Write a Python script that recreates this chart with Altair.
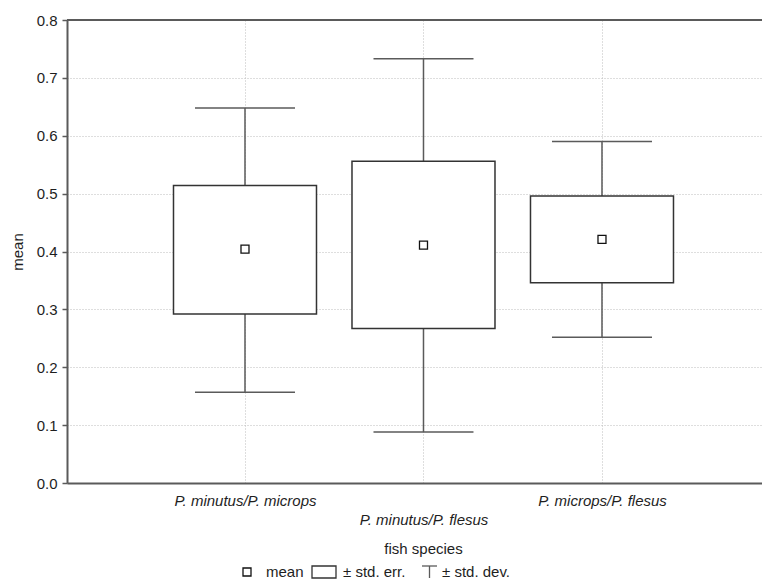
import altair as alt
import pandas as pd

# ---- data ----
categories = ["P. minutus/P. microps", "P. minutus/P. flesus", "P. microps/P. flesus"]
means = [0.404, 0.411, 0.421]
se_low = [0.292, 0.267, 0.346]
se_high = [0.514, 0.556, 0.496]
sd_low = [0.157, 0.088, 0.252]
sd_high = [0.648, 0.733, 0.590]
y_ticks = [0.0, 0.1, 0.2, 0.3, 0.4, 0.5, 0.6, 0.7, 0.8]
legend_labels = ["mean", "± std. err.", "± std. dev."]

df = pd.DataFrame({
    "species": categories,
    "mean": means,
    "se_lo": se_low,
    "se_hi": se_high,
    "sd_lo": sd_low,
    "sd_hi": sd_high,
})

W, H = 695, 463
FS = 15
FONT = "Arial, Liberation Sans, sans-serif"
INK = "#1e1e1e"
LINE = "#5a5a5a"
BOX = "#333333"
GRID = "#bdbdbd"

xscale = alt.Scale(type="point", domain=categories, padding=0.9468, align=0.5266)
yscale = alt.Scale(domain=[0, 0.8], nice=False, zero=False)

x_axis = alt.Axis(
    title="fish species",
    labelExpr="datum.label == 'P. minutus/P. flesus' ? ['', datum.label] : datum.label",
    labelFontStyle="italic",
    labelFontSize=FS,
    labelAngle=0,
    labelBaseline="alphabetic",
    labelPadding=22,
    labelLineHeight=19,
    labelOverlap=False,
    labelBound=False,
    ticks=False,
    domainColor=LINE,
    domainWidth=2,
    grid=True,
    gridColor=GRID,
    gridDash=[1, 2],
    titleX=356,
    titleY=70,
    titleBaseline="alphabetic",
    titleFontSize=FS,
    titleFontWeight="normal",
)

y_axis = alt.Axis(
    title="mean",
    values=y_ticks,
    format=".1f",
    labelFontSize=FS,
    labelPadding=5,
    tickSize=5,
    tickColor=LINE,
    tickWidth=1.5,
    domainColor=LINE,
    domainWidth=2,
    grid=True,
    gridColor=GRID,
    gridDash=[1, 2],
    titleFontSize=FS,
    titleFontWeight="normal",
    titleX=-50,
    titleY=H / 2,
    titleBaseline="middle",
)

base = alt.Chart(df).encode(x=alt.X("species:N", scale=xscale, axis=x_axis))


def Y(field):
    return alt.Y(field + ":Q", scale=yscale, axis=y_axis)


whisk_lo = base.mark_rule(color=LINE, strokeWidth=1.5).encode(y=Y("sd_lo"), y2="se_lo:Q")
whisk_hi = base.mark_rule(color=LINE, strokeWidth=1.5).encode(y=Y("se_hi"), y2="sd_hi:Q")
cap_lo = base.mark_tick(size=100, thickness=1.5, color=LINE, opacity=1).encode(y=Y("sd_lo"))
cap_hi = base.mark_tick(size=100, thickness=1.5, color=LINE, opacity=1).encode(y=Y("sd_hi"))
box = base.mark_bar(size=143, fill="white", stroke=BOX, strokeWidth=1.5).encode(
    y=Y("se_lo"), y2="se_hi:Q"
)
mean_pt = base.mark_point(
    shape="square", size=64, filled=True, fill="white", stroke="#111111",
    strokeWidth=1.3, opacity=1
).encode(y=Y("mean"))

# top frame line (plot continues past the right edge in the reference)
one = pd.DataFrame({"k": [0]})
top_line = alt.Chart(one).mark_rule(color=LINE, strokeWidth=2).encode(
    x=alt.value(0), x2=alt.value(W + 10), y=alt.value(0)
)

# ---- legend row under the axis title ----
LY = 557  # text baseline, relative to plot top
leg_sq = alt.Chart(one).mark_point(
    shape="square", size=64, filled=True, fill="white", stroke="#111111",
    strokeWidth=1.3, opacity=1
).encode(x=alt.value(180), y=alt.value(LY - 5))
leg_t1 = alt.Chart(one).mark_text(
    align="left", baseline="alphabetic", fontSize=FS, font=FONT, color=INK
).encode(x=alt.value(199), y=alt.value(LY), text=alt.value(legend_labels[0]))
leg_box = alt.Chart(one).mark_rect(fill="white", stroke=BOX, strokeWidth=1.3).encode(
    x=alt.value(245), x2=alt.value(269), y=alt.value(LY - 11), y2=alt.value(LY + 1)
)
leg_t2 = alt.Chart(one).mark_text(
    align="left", baseline="alphabetic", fontSize=FS, font=FONT, color=INK
).encode(x=alt.value(276), y=alt.value(LY), text=alt.value(legend_labels[1]))
leg_w1 = alt.Chart(one).mark_rule(color=LINE, strokeWidth=1.3).encode(
    x=alt.value(355), x2=alt.value(370), y=alt.value(LY - 11)
)
leg_w2 = alt.Chart(one).mark_rule(color=LINE, strokeWidth=1.3).encode(
    x=alt.value(362.5), y=alt.value(LY - 11), y2=alt.value(LY + 1)
)
leg_t3 = alt.Chart(one).mark_text(
    align="left", baseline="alphabetic", fontSize=FS, font=FONT, color=INK
).encode(x=alt.value(375), y=alt.value(LY), text=alt.value(legend_labels[2]))

chart = alt.layer(
    whisk_lo, whisk_hi, cap_lo, cap_hi, box, mean_pt, top_line,
    leg_sq, leg_t1, leg_box, leg_t2, leg_w1, leg_w2, leg_t3,
).properties(
    width=W,
    height=H,
    autosize=alt.AutoSizeParams(type="none"),
    padding={"left": 59, "top": 12, "right": 0, "bottom": 100},
    background="white",
).configure_view(
    strokeWidth=0
).configure_axis(
    labelFont=FONT, titleFont=FONT, labelColor=INK, titleColor=INK
)

chart.save("out.html", embed_options={"renderer": "svg", "actions": False})
